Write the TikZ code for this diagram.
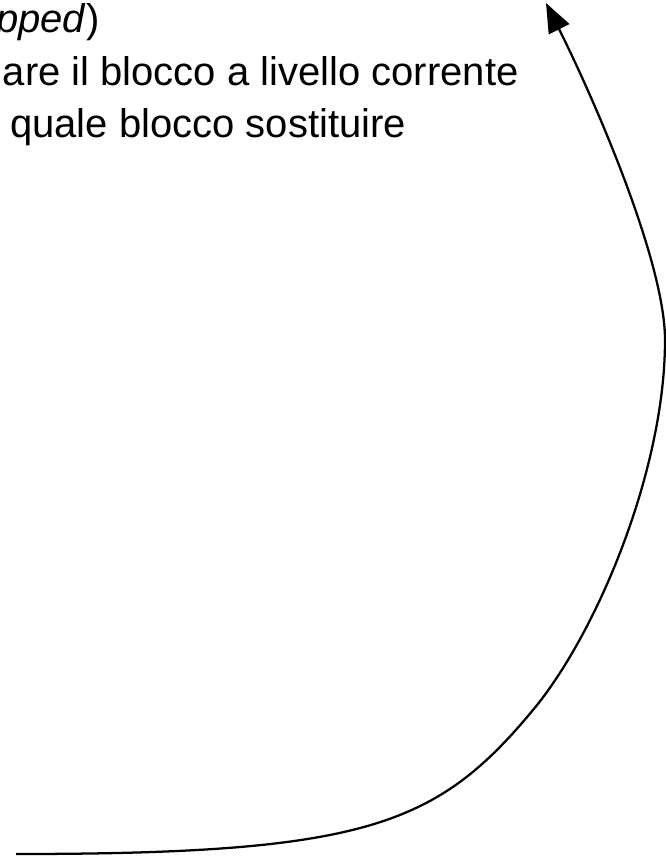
\documentclass[tikz,border=0pt]{standalone}
\usepackage{fontspec}
\setmainfont{Liberation Sans}
\usetikzlibrary{arrows.meta}
\begin{document}
\begin{tikzpicture}[x=0.75pt,y=-0.75pt,
  txt/.style={anchor=base west,inner sep=0pt,font=\fontsize{30}{36}\selectfont},
  curvearrow/.style={line width=1.7pt,-{Triangle[length=22pt,width=17pt]}}]
\useasboundingbox (0,0) rectangle (665,857);
\node[txt] (l1) at (-4,32) {\textit{pped})};
\node[txt] (l2) at (2.5,85) {are il blocco a livello corrente};
\node[txt] (l3) at (10,137) {quale blocco sostituire};
\coordinate (start) at (16,854);
\coordinate (p1) at (533,710);
\coordinate (apex) at (665,340);
\coordinate (tip) at (546,3);
\draw[curvearrow] (start) .. controls (366,854) and (437,825.5) .. (p1)
  .. controls (597,633) and (665,470) .. (apex)
  .. controls (665,262) and (595,101) .. (tip);
\end{tikzpicture}
\end{document}
